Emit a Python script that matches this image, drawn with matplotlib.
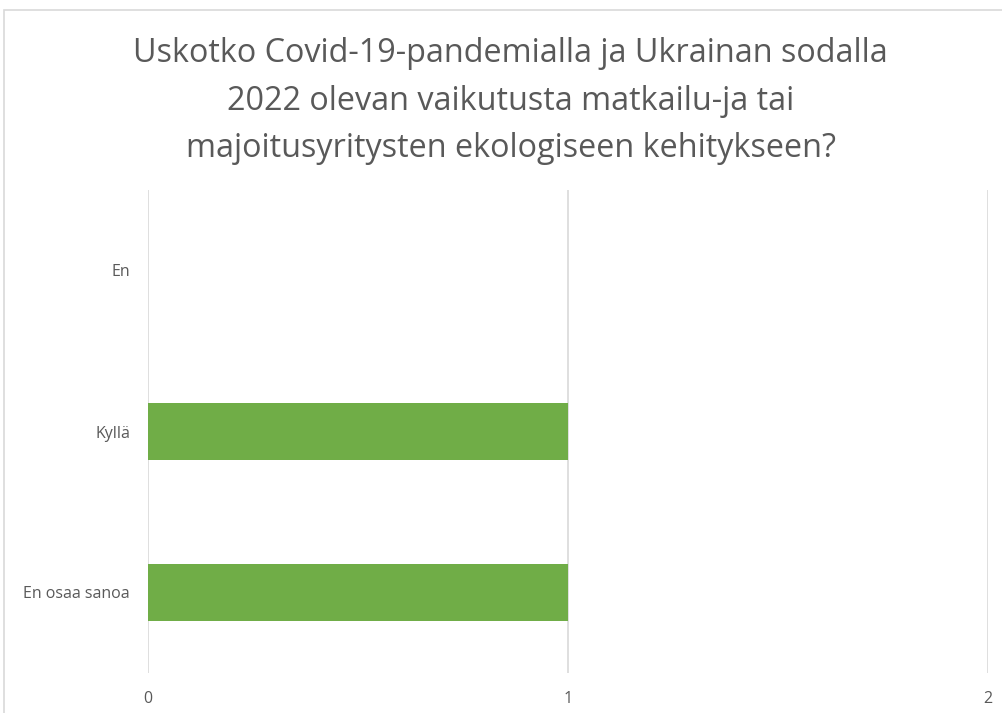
import matplotlib.pyplot as plt
from matplotlib.patches import Rectangle

# ----------
#  DATA
# ----------
categories = ["En osaa sanoa", "Kyllä", "En"]
counts = [1, 1, 0]
x_ticks = [0, 1, 2]

title = ("Uskotko Covid-19-pandemialla ja Ukrainan sodalla\n"
         "2022 olevan vaikutusta matkailu-ja tai\n"
         "majoitusyritysten ekologiseen kehitykseen?")

# ----------
#  STYLE
# ----------
text_color = "#595959"
grid_color = "#D9D9D9"
bar_color = "#70AD47"
plt.rcParams["font.family"] = ["Open Sans", "DejaVu Sans"]

fig = plt.figure(figsize=(10.03, 7.13), dpi=100)
ax = fig.add_axes([148 / 1003, 1 - 673 / 713, 840 / 1003, 483 / 713])

# chart area border (runs off the right/bottom edge as in the source)
fig.patches.append(Rectangle((4 / 1003, -0.1), 1.2, 1 - 10 / 713 + 0.1,
                             transform=fig.transFigure, fill=False,
                             edgecolor=grid_color, linewidth=1.2))

ypos = list(range(len(categories)))
ax.barh(ypos, counts, height=0.355, color=bar_color, zorder=3)

ax.set_xlim(0, 2)
ax.set_ylim(-0.5, len(categories) - 0.5)
ax.set_xticks(x_ticks)
ax.set_yticks(ypos)
ax.set_yticklabels(categories)
ax.tick_params(axis="both", length=0, colors=text_color, labelsize=11.5)
ax.tick_params(axis="y", pad=13)
ax.tick_params(axis="x", pad=13)
ax.grid(axis="x", color=grid_color, linewidth=1.2, zorder=0)
for s in ax.spines.values():
    s.set_visible(False)

fig.text(0.509, 1 - 101 / 713, title, ha="center", va="center",
         fontsize=23.3, color=text_color, linespacing=1.57)

fig.savefig("out.png", dpi=100)
